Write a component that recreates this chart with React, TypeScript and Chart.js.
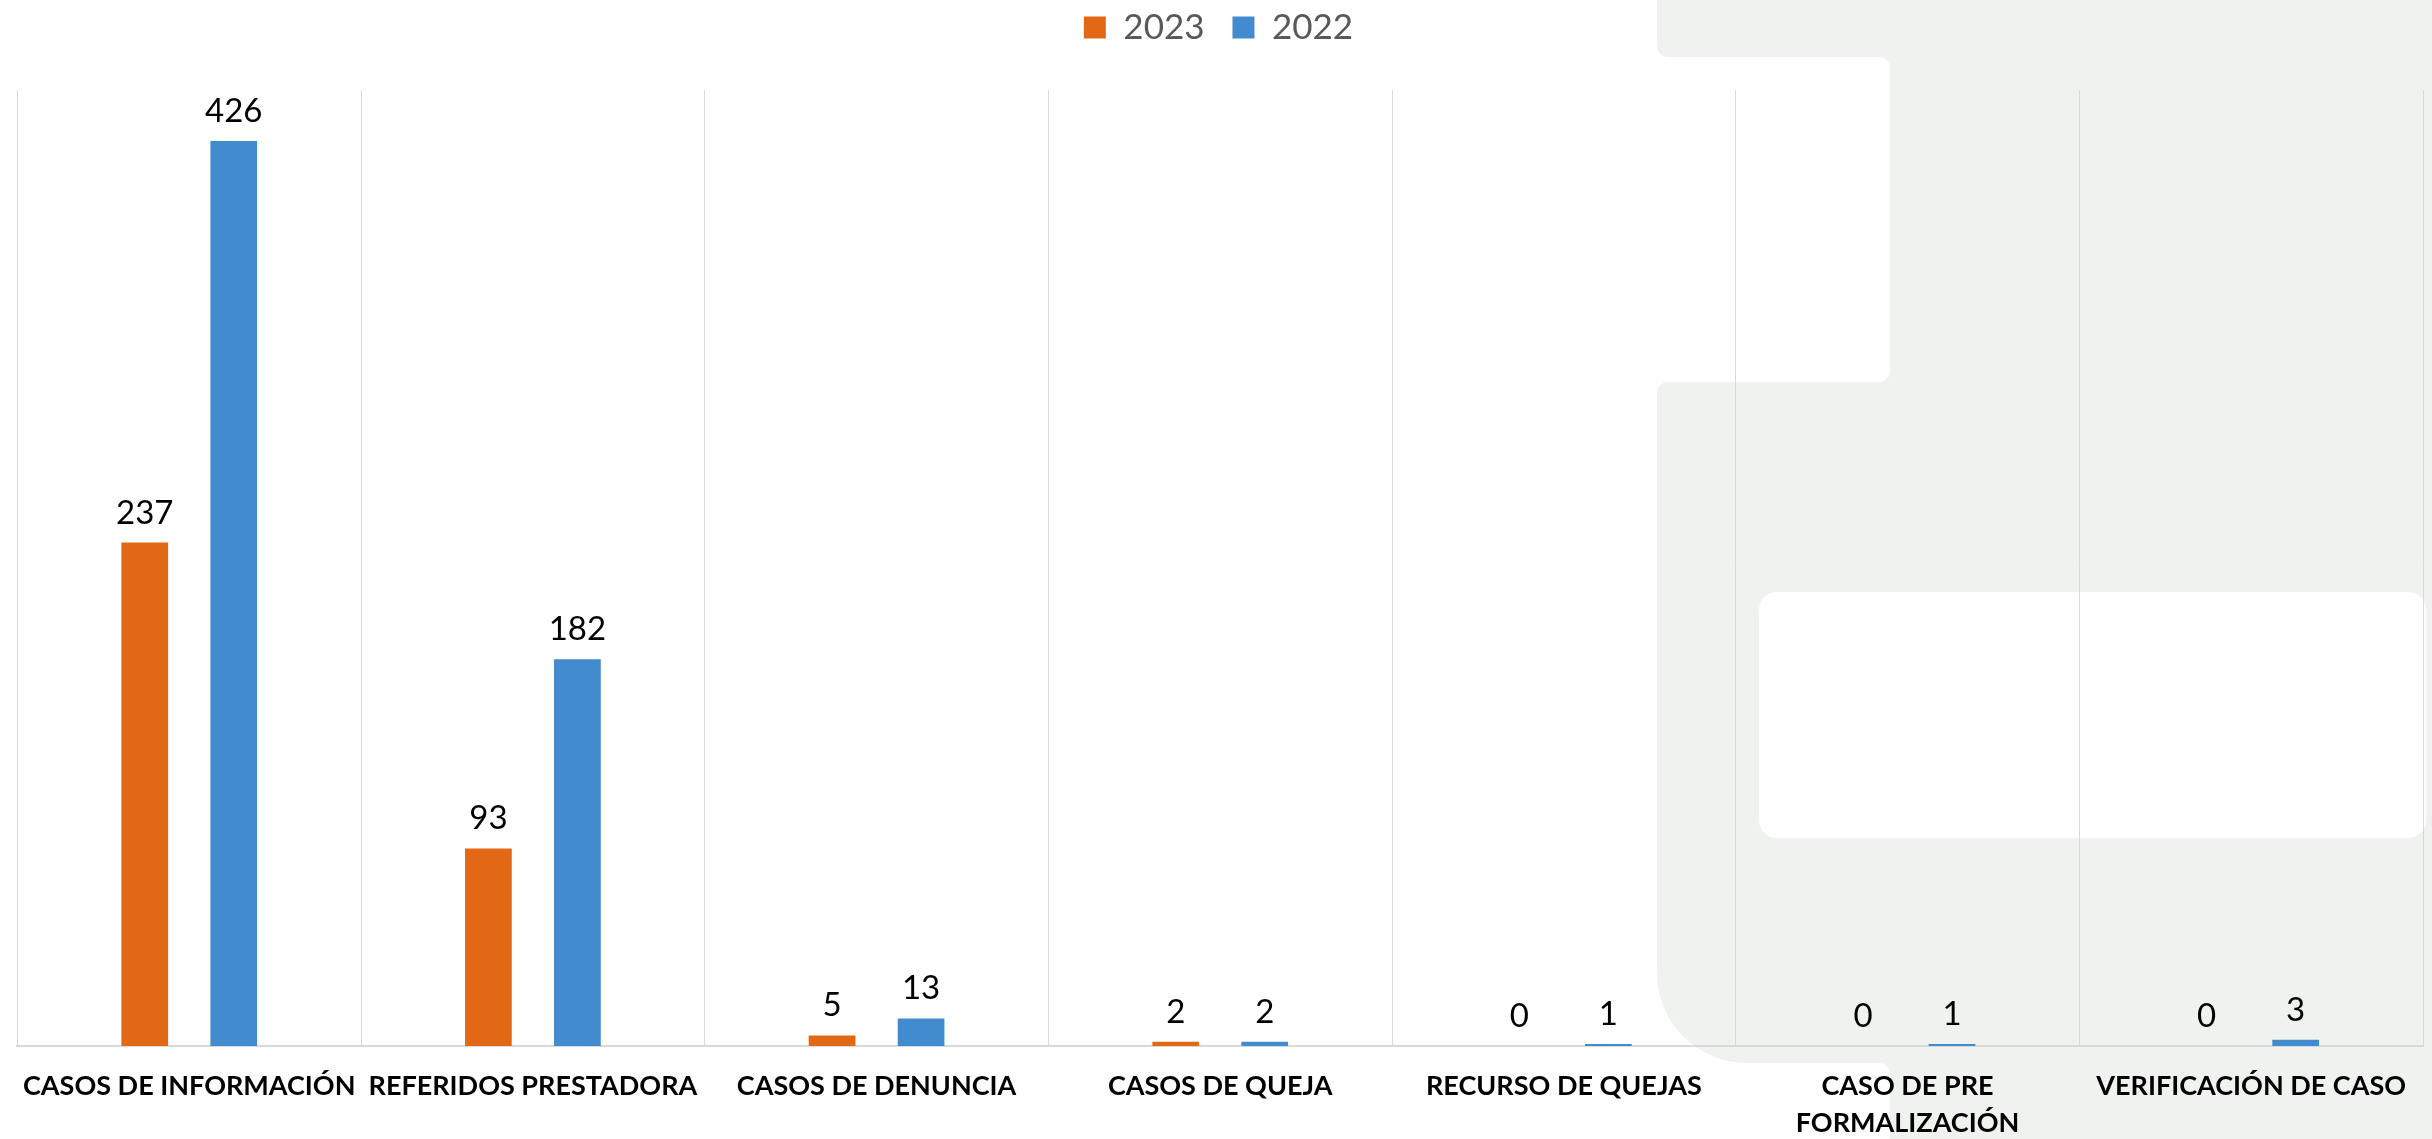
import React, { useEffect, useRef } from 'react';
import { Chart, registerables } from 'chart.js';

Chart.register(...registerables);

// ---------- data ----------
const categories: (string | string[])[] = [
  'CASOS DE INFORMACIÓN',
  'REFERIDOS PRESTADORA',
  'CASOS DE DENUNCIA',
  'CASOS DE QUEJA',
  'RECURSO DE QUEJAS',
  ['CASO DE PRE', 'FORMALIZACIÓN'],
  'VERIFICACIÓN DE CASO',
];
const seriesNames = ['2023', '2022'];
const values2023 = [237, 93, 5, 2, 0, 0, 0];
const values2022 = [426, 182, 13, 2, 1, 1, 3];
const yMin = 0;
const yMax = 450;

// ---------- styles ----------
const ORANGE = '#E26816';
const BLUE = '#428BCE';
const GRID = '#D9D9D9';
const FONT = 'Lato, "Open Sans", sans-serif';

export default function App() {
  const ref = useRef<HTMLCanvasElement>(null);

  useEffect(() => {
    const canvas = ref.current;
    if (!canvas) return;

    const roundRectPath = (ctx: CanvasRenderingContext2D, x: number, y: number, w: number, h: number, r: number) => {
      ctx.beginPath();
      ctx.moveTo(x + r, y);
      ctx.arcTo(x + w, y, x + w, y + h, r);
      ctx.arcTo(x + w, y + h, x, y + h, r);
      ctx.arcTo(x, y + h, x, y, r);
      ctx.arcTo(x, y, x + w, y, r);
      ctx.closePath();
    };

    const backgroundShape = {
      id: 'backgroundShape',
      beforeDraw(chart: any) {
        const ctx: CanvasRenderingContext2D = chart.ctx;
        const W = chart.width;
        const H = chart.height;
        ctx.save();
        ctx.fillStyle = '#ffffff';
        ctx.fillRect(0, 0, W, H);
        const L = 1657, N = 1890, T1 = 57, T2 = 382, B = 1063, r = 11, R = 90;
        ctx.fillStyle = '#F0F2F0';
        ctx.beginPath();
        ctx.moveTo(L, 0);
        ctx.lineTo(W, 0);
        ctx.lineTo(W, H);
        ctx.lineTo(N, H);
        ctx.arcTo(N, B, L, B, r);
        ctx.arcTo(L, B, L, T2, R);
        ctx.arcTo(L, T2, N, T2, r);
        ctx.arcTo(N, T2, N, T1, r);
        ctx.arcTo(N, T1, L, T1, r);
        ctx.arcTo(L, T1, L, 0, r);
        ctx.lineTo(L, 0);
        ctx.closePath();
        ctx.fill();
        ctx.fillStyle = '#ffffff';
        roundRectPath(ctx, 1759, 592, 2426 - 1759, 838 - 592, 18);
        ctx.fill();
        ctx.restore();
      },
    };

    const legendGap = {
      id: 'legendGap',
      beforeInit(chart: any) {
        const legend = chart.legend;
        if (!legend) return;
        const origFit = legend.fit;
        legend.fit = function () {
          origFit.call(legend);
          legend.height += 35;
        };
      },
    };

    const valueLabels = {
      id: 'valueLabels',
      afterDatasetsDraw(chart: any) {
        const ctx: CanvasRenderingContext2D = chart.ctx;
        ctx.save();
        ctx.font = `33px ${FONT}`;
        ctx.fillStyle = '#000000';
        ctx.textAlign = 'center';
        ctx.textBaseline = 'alphabetic';
        chart.data.datasets.forEach((ds: any, di: number) => {
          const meta = chart.getDatasetMeta(di);
          meta.data.forEach((bar: any, i: number) => {
            ctx.fillText(String(ds.data[i]), bar.x, bar.y - 19);
          });
        });
        ctx.restore();
      },
    };

    const chart = new Chart(canvas, {
      type: 'bar',
      data: {
        labels: categories,
        datasets: [
          {
            label: seriesNames[0],
            data: values2023,
            backgroundColor: ORANGE,
            borderWidth: 0,
            categoryPercentage: 0.518,
            barPercentage: 0.525,
          },
          {
            label: seriesNames[1],
            data: values2022,
            backgroundColor: BLUE,
            borderWidth: 0,
            categoryPercentage: 0.518,
            barPercentage: 0.525,
          },
        ],
      },
      options: {
        animation: false,
        responsive: true,
        maintainAspectRatio: false,
        events: [],
        layout: { padding: { left: 14, right: 9, top: 0, bottom: -25 } },
        plugins: {
          tooltip: { enabled: false },
          legend: {
            display: true,
            position: 'top',
            labels: {
              boxWidth: 22,
              boxHeight: 22,
              padding: 10,
              color: '#595959',
              font: { family: FONT, size: 35 },
              generateLabels: (c: any) => {
                const items = (Chart.defaults as any).plugins.legend.labels.generateLabels(c);
                return items.map((it: any, idx: number) =>
                  idx < items.length - 1 ? { ...it, text: it.text + '  ' } : it
                );
              },
            },
          },
        },
        scales: {
          x: {
            grid: { display: true, offset: true, color: GRID, lineWidth: 1, drawTicks: false },
            border: { display: true, color: GRID, width: 2 },
            ticks: {
              color: '#000000',
              padding: 22,
              maxRotation: 0,
              autoSkip: false,
              font: { family: FONT, size: 27, weight: 'bold', lineHeight: 37 / 27 },
            },
          },
          y: {
            display: false,
            min: yMin,
            max: yMax,
            grid: { display: false },
          },
        },
      },
      plugins: [backgroundShape, legendGap, valueLabels],
    } as any);

    return () => chart.destroy();
  }, []);

  return (
    <div style={{ position: 'fixed', left: 0, top: 0, width: 2432, height: 1139 }}>
      <canvas ref={ref} />
    </div>
  );
}
